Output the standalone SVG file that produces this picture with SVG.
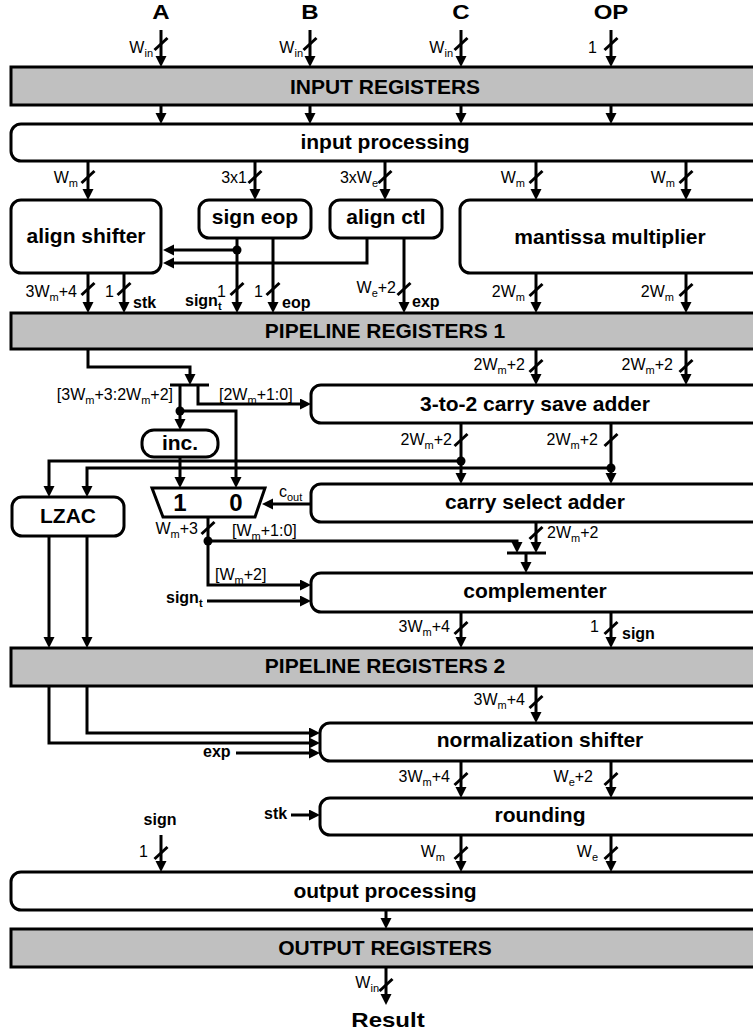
<svg xmlns="http://www.w3.org/2000/svg" width="753" height="1033" viewBox="0 0 753 1033">
  <defs>
    <marker id="ah" markerUnits="userSpaceOnUse" markerWidth="12" markerHeight="12" refX="7" refY="5.5" orient="auto">
      <path d="M0,0 L11,5.5 L0,11 Z" fill="#000"/>
    </marker>
    <path id="sl" d="M-6.5,6 L6.5,-6" stroke="#000" stroke-width="3" fill="none"/>
  </defs>
  <style>
    .reg{fill:#c0c0c0;stroke:#000;stroke-width:3}
    .blk{fill:#fff;stroke:#000;stroke-width:3}
    .ln{fill:none;stroke:#000;stroke-width:3}
    .ar{marker-end:url(#ah)}
    text{font-family:"Liberation Sans",Arial,sans-serif;fill:#000}
    .t{font-size:21px;font-weight:bold;text-anchor:middle}
    .io{font-size:20px;font-weight:bold;text-anchor:middle}
    .s{font-size:16px}
    .sb{font-size:16px;font-weight:bold}
    .e{text-anchor:end}
    .sub{font-size:11px}
    .mx{font-size:24px;font-weight:bold;text-anchor:middle}
  </style>

  <!-- primary inputs / output names -->
  <g id="io-labels">
    <text class="io" transform="translate(161,19) scale(1.2,1)">A</text>
    <text class="io" transform="translate(310,19) scale(1.2,1)">B</text>
    <text class="io" transform="translate(461,19) scale(1.2,1)">C</text>
    <text class="io" transform="translate(611,19) scale(1.2,1)">OP</text>
    <text class="io" transform="translate(388,1027) scale(1.2,1)">Result</text>
  </g>

  <!-- processing blocks and registers -->
  <g id="input-registers"><rect class="reg" x="11" y="67" width="760" height="38"/><text class="t" x="385" y="94">INPUT REGISTERS</text></g>
  <g id="input-processing"><rect class="blk" x="11" y="124" width="760" height="37" rx="10"/><text class="t" x="385" y="149">input processing</text></g>
  <g id="align-shifter"><rect class="blk" x="11" y="200" width="150" height="73" rx="10"/><text class="t" x="86" y="243">align shifter</text></g>
  <g id="sign-eop"><rect class="blk" x="199" y="200" width="112" height="38" rx="10"/><text class="t" x="255" y="224">sign eop</text></g>
  <g id="align-ctl"><rect class="blk" x="330" y="200" width="112" height="38" rx="10"/><text class="t" x="386" y="224">align ctl</text></g>
  <g id="mantissa-multiplier"><rect class="blk" x="460" y="200" width="310" height="73" rx="10"/><text class="t" x="610" y="244">mantissa multiplier</text></g>
  <g id="pipeline-registers-1"><rect class="reg" x="11" y="313" width="760" height="36"/><text class="t" x="385" y="338">PIPELINE REGISTERS 1</text></g>
  <g id="csa"><rect class="blk" x="311" y="385" width="460" height="38" rx="10"/><text class="t" x="535" y="411">3-to-2 carry save adder</text></g>
  <g id="inc"><rect class="blk" x="142" y="430" width="76" height="27" rx="12"/><text class="t" x="180" y="450">inc.</text></g>
  <g id="carry-select-adder"><rect class="blk" x="311" y="484" width="460" height="38" rx="10"/><text class="t" x="535" y="509">carry select adder</text></g>
  <g id="mux"><polygon class="blk" points="152,488 265,488 255,517 163,517"/><text class="mx" x="180" y="511">1</text><text class="mx" x="236" y="511">0</text></g>
  <g id="lzac"><rect class="blk" x="12" y="497" width="112" height="39" rx="10"/><text class="t" x="68" y="523">LZAC</text></g>
  <g id="complementer"><rect class="blk" x="311" y="573" width="460" height="39" rx="10"/><text class="t" x="535" y="598">complementer</text></g>
  <g id="pipeline-registers-2"><rect class="reg" x="11" y="648" width="760" height="38"/><text class="t" x="385" y="673">PIPELINE REGISTERS 2</text></g>
  <g id="normalization-shifter"><rect class="blk" x="320" y="723" width="450" height="38" rx="10"/><text class="t" x="540" y="747">normalization shifter</text></g>
  <g id="rounding"><rect class="blk" x="320" y="798" width="450" height="37" rx="10"/><text class="t" x="540" y="822">rounding</text></g>
  <g id="output-processing"><rect class="blk" x="11" y="872" width="760" height="38" rx="10"/><text class="t" x="385" y="898">output processing</text></g>
  <g id="output-registers"><rect class="reg" x="11" y="929" width="760" height="38"/><text class="t" x="385" y="955">OUTPUT REGISTERS</text></g>

  <!-- connectors -->
  <g id="connectors">
    <g class="ln ar">
      <!-- primary inputs -->
      <path d="M161,30 V63"/><path d="M310,30 V63"/><path d="M461,30 V63"/><path d="M611,30 V63"/>
      <path d="M161,105 V120"/><path d="M310,105 V120"/><path d="M461,105 V120"/><path d="M611,105 V120"/>
      <!-- input processing fan-out -->
      <path d="M88,161 V196"/><path d="M255,161 V196"/><path d="M385,161 V196"/><path d="M536,161 V196"/><path d="M686,161 V196"/>
      <!-- stage 1 -->
      <path d="M237,238 V309"/><path d="M273,238 V309"/>
      <path d="M237,250 H167"/>
      <path d="M367,238 V263 H167"/>
      <path d="M404,238 V309"/>
      <path d="M88,273 V309"/><path d="M124,273 V309"/>
      <path d="M536,273 V309"/><path d="M686,273 V309"/>
      <!-- stage 2 -->
      <path d="M536,349 V381"/><path d="M686,349 V381"/>
      <path d="M88,349 V367 H190 V381"/>
      <path d="M180,385 V426"/>
      <path d="M198,385 V404 H307"/>
      <path d="M180,411 H236 V484"/>
      <path d="M180,457 V484"/>
      <path d="M461,461 H49 V493"/>
      <path d="M611,468 H87 V493"/>
      <path d="M461,423 V480"/><path d="M611,423 V480"/>
      <path d="M311,504 H266"/>
      <path d="M208,517 V585 H307"/>
      <path d="M208,541 H517 V549"/>
      <path d="M536,522 V549"/>
      <path d="M526,553 V569"/>
      <path d="M207,601 H307"/>
      <path d="M49,536 V644"/><path d="M87,536 V644"/>
      <path d="M461,612 V644"/><path d="M611,612 V644"/>
      <!-- stage 3 -->
      <path d="M536,686 V719"/>
      <path d="M49,686 V743 H316"/>
      <path d="M87,686 V733 H316"/>
      <path d="M236,753 H316"/>
      <path d="M461,761 V794"/><path d="M611,761 V794"/>
      <path d="M291,815 H316"/>
      <path d="M461,835 V868"/><path d="M611,835 V868"/>
      <path d="M161,835 V868"/>
      <path d="M386,910 V925"/>
      <path d="M386,967 V1001"/>
    </g>
    <!-- split / merge bars -->
    <path class="ln" d="M170,385 H209"/>
    <path class="ln" d="M507,553 H546"/>
    <!-- junction dots -->
    <g fill="#000">
      <circle cx="237" cy="250" r="4.5"/>
      <circle cx="180" cy="411" r="4.5"/>
      <circle cx="461" cy="461" r="4.5"/>
      <circle cx="611" cy="468" r="4.5"/>
      <circle cx="208" cy="541" r="4.5"/>
    </g>
    <!-- bus width ticks -->
    <use href="#sl" x="161" y="44"/><use href="#sl" x="310" y="44"/><use href="#sl" x="461" y="44"/><use href="#sl" x="611" y="44"/>
    <use href="#sl" x="88" y="177"/><use href="#sl" x="255" y="177"/><use href="#sl" x="385" y="177"/><use href="#sl" x="536" y="177"/><use href="#sl" x="686" y="177"/>
    <use href="#sl" x="88" y="289"/><use href="#sl" x="124" y="289"/><use href="#sl" x="237" y="289"/><use href="#sl" x="273" y="289"/><use href="#sl" x="404" y="289"/>
    <use href="#sl" x="536" y="290"/><use href="#sl" x="686" y="290"/>
    <use href="#sl" x="536" y="366"/><use href="#sl" x="686" y="366"/>
    <use href="#sl" x="461" y="440"/><use href="#sl" x="611" y="440"/>
    <use href="#sl" x="208" y="528"/><use href="#sl" x="536" y="533"/>
    <use href="#sl" x="461" y="628"/><use href="#sl" x="611" y="628"/>
    <use href="#sl" x="536" y="702"/>
    <use href="#sl" x="461" y="779"/><use href="#sl" x="611" y="779"/>
    <use href="#sl" x="461" y="853"/><use href="#sl" x="611" y="853"/><use href="#sl" x="161" y="853"/>
    <use href="#sl" x="386" y="985"/>
  </g>

  <!-- bus labels -->
  <g id="bus-labels">
    <text class="s e" x="153" y="53">W<tspan class="sub" dy="4">in</tspan></text>
    <text class="s e" x="303" y="53">W<tspan class="sub" dy="4">in</tspan></text>
    <text class="s e" x="453" y="53">W<tspan class="sub" dy="4">in</tspan></text>
    <text class="s e" x="597" y="53">1</text>

    <text class="s e" x="78" y="183">W<tspan class="sub" dy="4">m</tspan></text>
    <text class="s e" x="247" y="183">3x1</text>
    <text class="s e" x="378" y="183">3xW<tspan class="sub" dy="4">e</tspan></text>
    <text class="s e" x="525" y="183">W<tspan class="sub" dy="4">m</tspan></text>
    <text class="s e" x="675" y="183">W<tspan class="sub" dy="4">m</tspan></text>

    <text class="s e" x="77" y="297">3W<tspan class="sub" dy="4">m</tspan><tspan dy="-4">+4</tspan></text>
    <text class="s e" x="114" y="297">1</text>
    <text class="sb" x="133" y="308">stk</text>
    <text class="sb" x="185" y="306">sign<tspan class="sub" dy="4">t</tspan></text>
    <text class="s" x="217" y="297">1</text>
    <text class="s" x="254" y="297">1</text>
    <text class="sb" x="282" y="308">eop</text>
    <text class="s e" x="396" y="293">W<tspan class="sub" dy="4">e</tspan><tspan dy="-4">+2</tspan></text>
    <text class="sb" x="412" y="307">exp</text>
    <text class="s e" x="525" y="297">2W<tspan class="sub" dy="4">m</tspan></text>
    <text class="s e" x="674" y="297">2W<tspan class="sub" dy="4">m</tspan></text>

    <text class="s e" x="525" y="370">2W<tspan class="sub" dy="4">m</tspan><tspan dy="-4">+2</tspan></text>
    <text class="s e" x="673" y="370">2W<tspan class="sub" dy="4">m</tspan><tspan dy="-4">+2</tspan></text>
    <text class="s e" x="173" y="400">[3W<tspan class="sub" dy="4">m</tspan><tspan dy="-4">+3:2W</tspan><tspan class="sub" dy="4">m</tspan><tspan dy="-4">+2]</tspan></text>
    <text class="s" x="219" y="400">[2W<tspan class="sub" dy="4">m</tspan><tspan dy="-4">+1:0]</tspan></text>

    <text class="s e" x="452" y="445">2W<tspan class="sub" dy="4">m</tspan><tspan dy="-4">+2</tspan></text>
    <text class="s e" x="598" y="445">2W<tspan class="sub" dy="4">m</tspan><tspan dy="-4">+2</tspan></text>
    <text class="s" x="279" y="497">c<tspan class="sub" dy="4">out</tspan></text>
    <text class="s e" x="198" y="534">W<tspan class="sub" dy="4">m</tspan><tspan dy="-4">+3</tspan></text>
    <text class="s" x="232" y="536">[W<tspan class="sub" dy="4">m</tspan><tspan dy="-4">+1:0]</tspan></text>
    <text class="s" x="547" y="538">2W<tspan class="sub" dy="4">m</tspan><tspan dy="-4">+2</tspan></text>
    <text class="s" x="215" y="580">[W<tspan class="sub" dy="4">m</tspan><tspan dy="-4">+2]</tspan></text>
    <text class="sb" x="166" y="603">sign<tspan class="sub" dy="4">t</tspan></text>

    <text class="s e" x="450" y="632">3W<tspan class="sub" dy="4">m</tspan><tspan dy="-4">+4</tspan></text>
    <text class="s" x="590" y="632">1</text>
    <text class="sb" x="622" y="639">sign</text>

    <text class="s e" x="525" y="705">3W<tspan class="sub" dy="4">m</tspan><tspan dy="-4">+4</tspan></text>
    <text class="sb" x="203" y="757">exp</text>
    <text class="s e" x="450" y="782">3W<tspan class="sub" dy="4">m</tspan><tspan dy="-4">+4</tspan></text>
    <text class="s e" x="593" y="782">W<tspan class="sub" dy="4">e</tspan><tspan dy="-4">+2</tspan></text>
    <text class="sb" x="264" y="819">stk</text>
    <text class="sb" x="160" y="825" text-anchor="middle">sign</text>
    <text class="s" x="139" y="857">1</text>
    <text class="s e" x="445" y="857">W<tspan class="sub" dy="4">m</tspan></text>
    <text class="s e" x="598" y="857">W<tspan class="sub" dy="4">e</tspan></text>
    <text class="s e" x="379" y="988">W<tspan class="sub" dy="4">in</tspan></text>
  </g>
</svg>
